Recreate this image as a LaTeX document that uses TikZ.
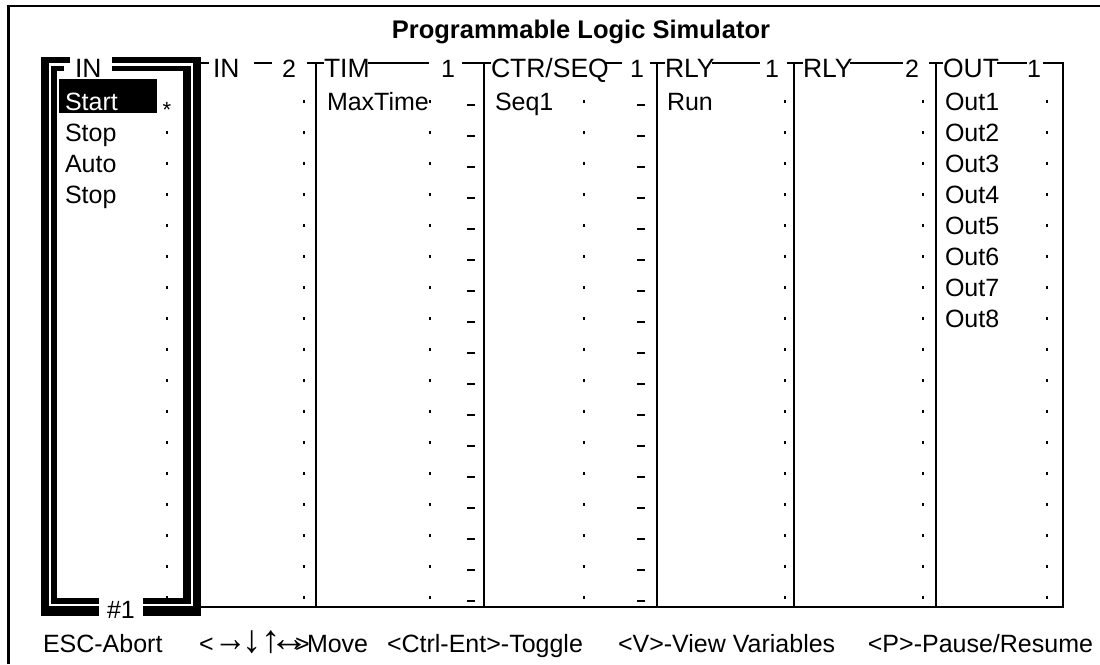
\documentclass[tikz,border=0pt]{standalone}
\usepackage{fontspec}
\setmainfont{Liberation Sans}
\newcommand{\scrfont}{\fontsize{25}{29}\selectfont}
\newcommand{\capfont}{\fontsize{26.5}{30}\selectfont}
\begin{document}
\begin{tikzpicture}[x=1pt,y=-1pt,
  lbl/.style={inner sep=0pt, outer sep=0pt, font=\scrfont, anchor=base west},
  hdr/.style={inner sep=0pt, outer sep=0pt, font=\capfont, anchor=base west},
  num/.style={inner sep=0pt, outer sep=0pt, font=\scrfont, anchor=base},
  rule/.style={line width=2.4pt},
  frame/.style={line width=2.5pt},
]
\useasboundingbox (0,0) rectangle (1100,664);
\fill[white] (0,0) rectangle (1100,664);

% screen border: left and top edges
\draw[frame] (8.5,664) -- (8.5,6) -- (1100,6);

% title line
\node[inner sep=0pt, font=\fontsize{25.5}{30}\selectfont\bfseries, anchor=base]
  (title) at (581,38) {Programmable Logic Simulator};

% level of the header rule
\coordinate (hy) at (0,63);

% column frames
\draw[rule] (1043,63) -- (1063,63) -- (1063,607) -- (201,607);
\foreach \cx in {316,484,657,794,936} \draw[rule] (\cx,63) -- (\cx,607);

% header captions
\node[hdr] (h-in2)  at (213,77) {IN};
\node[num] (n-in2)  at (289,77) {2};
\node[hdr] (h-tim)  at (324,77) {TIM};
\node[num] (n-tim)  at (448,77) {1};
\node[hdr] (h-ctr)  at (491,77) {CTR/SEQ};
\node[num] (n-ctr)  at (637,77) {1};
\node[hdr] (h-rly1) at (665,77) {RLY};
\node[num] (n-rly1) at (772,77) {1};
\node[hdr] (h-rly2) at (803,77) {RLY};
\node[num] (n-rly2) at (912,77) {2};
\node[hdr] (h-out)  at (943,77) {OUT};
\node[num] (n-out)  at (1034,77) {1};

% header rule pieces between the captions
\draw[rule] (201,63) -- (209,63);
\draw[rule] (254,63) -- (272,63);
\draw[rule] (307,63) -- (h-tim.west |- hy);
\draw[rule] ([xshift=-2pt]h-tim.east |- hy) -- (429,63);
\draw[rule] (462,63) -- (h-ctr.west |- hy);
\draw[rule] ([xshift=-5pt]h-ctr.east |- hy) -- (622,63);
\draw[rule] (650,63) -- (h-rly1.west |- hy);
\draw[rule] ([xshift=-3pt]h-rly1.east |- hy) -- (760,63);
\draw[rule] (787,63) -- (h-rly2.west |- hy);
\draw[rule] ([xshift=-3pt]h-rly2.east |- hy) -- (903,63);
\draw[rule] (929,63) -- (h-out.west |- hy);
\draw[rule] ([xshift=-2pt]h-out.east |- hy) -- (1027,63);

% active column: double frame
\fill (41,57) rectangle (49,616);
\fill (193,57) rectangle (201,616);
\fill (41,57) rectangle (70,63);
\fill (112,57) rectangle (201,63);
\fill (41,606) rectangle (99,616);
\fill (143,606) rectangle (201,616);
\fill (51,66) rectangle (57,604);
\fill (183,66) rectangle (191,604);
\fill (51,66) rectangle (64,71);
\fill (112,66) rectangle (191,71);
\fill (51,598) rectangle (99,604);
\fill (143,598) rectangle (191,604);
\node[hdr] (h-in1) at (75,77) {IN};
\node[num] (n-in1) at (121,618) {\#1};

% cursor on the first input
\fill (59,79) rectangle (157,113);
\node[lbl, text=white] (v-start) at (65,110) {Start};
\node[inner sep=0pt, outer sep=0pt, font=\fontsize{22}{22}\selectfont, anchor=base]
  (star) at (167,117) {*};

% variable names
\node[lbl] (v-stop1) at (65,141) {Stop};
\node[lbl] (v-auto)  at (65,172) {Auto};
\node[lbl] (v-stop2) at (65,203) {Stop};
\node[lbl] (v-max)   at (327,110) {MaxTime};
\node[lbl] (v-seq)   at (495,110) {Seq1};
\node[lbl] (v-run)   at (667,110) {Run};
\foreach \k in {1,...,8}
  \node[lbl] (v-out\k) at (945,79+31*\k) {Out\k};

% state markers in every row
\foreach \k in {0,...,16}{
  \pgfmathsetmacro{\ry}{101.5+31*\k}
  \foreach \dx in {304,430,584,785,923,1047}
    \fill (\dx-1.3,\ry-1.3) rectangle (\dx+1.3,\ry+1.3);
  \fill (467,\ry+2.2) rectangle (475,\ry+4.8);
  \fill (637,\ry+2.2) rectangle (645,\ry+4.8);
}
\foreach \k in {1,...,16}{
  \pgfmathsetmacro{\ry}{101.5+31*\k}
  \fill (167-1.3,\ry-1.3) rectangle (167+1.3,\ry+1.3);
}

% key help line
\node[lbl] (f-esc) at (43,652) {ESC-Abort};
\node[lbl] (f-lt)  at (199,652) {<};
\node[num] (f-ra)  at (231,651) {\scalebox{1.3}[1.55]{→}};
\node[num] (f-da)  at (252,652) {\scalebox{1.55}{↓}};
\node[num] (f-ua)  at (271,652) {\scalebox{1.55}{↑}};
\node[num] (f-lr)  at (289,651) {\scalebox{1.6}[1.55]{↔}};
\node[lbl] (f-gt)  at (295,652) {>};
\node[lbl] (f-move) at (307,652) {Move};
\node[lbl] (f-tog) at (387,652) {<Ctrl-Ent>-Toggle};
\node[lbl] (f-var) at (618,652) {<V>-View Variables};
\node[lbl, anchor=base east] (f-pau) at (1093,652) {<P>-Pause/Resume};
\end{tikzpicture}
\end{document}
